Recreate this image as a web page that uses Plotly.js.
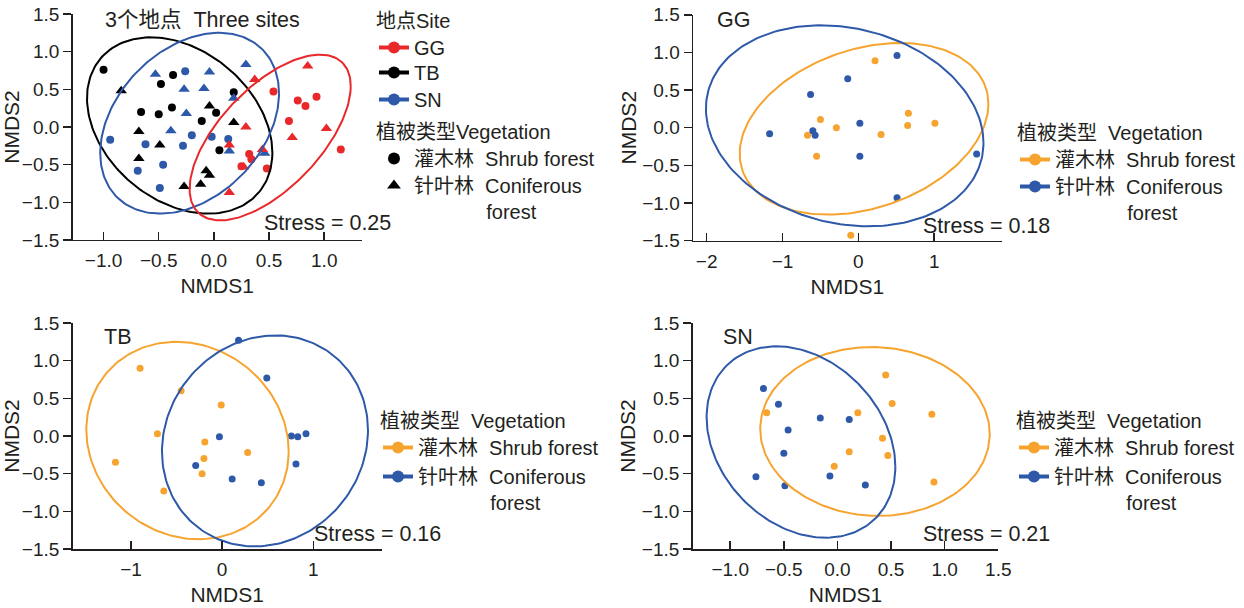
<!DOCTYPE html>
<html><head><meta charset="utf-8">
<script src="https://cdn.plot.ly/plotly-3.0.1.min.js"></script>
<style>html,body{margin:0;padding:0;background:#fff}#chart{width:1244px;height:608px}</style>
</head><body><div id="chart"></div>
<script>
// ---------- Panel 1: three sites ----------
const ggShrubX = [0.54, 0.76, 0.83, 0.93, 0.68, 1.15, 0.32, 0.34, 0.25, 0.48];
const ggShrubY = [0.47, 0.35, 0.28, 0.40, 0.08, -0.30, -0.36, -0.43, -0.52, -0.55];
const ggConifX = [0.85, 0.37, 0.29, 0.71, 1.02, 0.14, 0.44, 0.27, 0.14];
const ggConifY = [0.81, 0.63, 0.00, -0.14, -0.02, -0.24, -0.30, -0.53, -0.87];
const tbShrubX = [-1.00, -0.37, -0.48, 0.18, -0.66, -0.50, -0.38, -0.11, 0.02, 0.05];
const tbShrubY = [0.76, 0.69, 0.57, 0.46, 0.20, 0.17, 0.26, 0.08, 0.19, -0.31];
const tbConifX = [-0.84, -0.68, -0.49, -0.68, -0.04, 0.18, -0.07, -0.04, -0.27, -0.12];
const tbConifY = [0.48, -0.06, -0.24, -0.42, 0.28, 0.06, -0.58, -0.64, -0.79, -0.76];
const snShrubX = [-0.26, -0.94, -0.62, -0.20, -0.02, 0.13, -0.28, -0.46, -0.69, -0.49];
const snShrubY = [0.74, -0.17, -0.23, -0.11, -0.13, -0.16, -0.25, -0.50, -0.58, -0.81];
const snConifX = [-0.53, -0.04, 0.29, -0.27, -0.09, 0.18, -0.25, -0.39, 0.14, 0.46];
const snConifY = [0.70, 0.73, 0.83, 0.50, 0.51, 0.38, 0.18, -0.05, -0.32, -0.35];
// ellipse: [centreX, centreY, sdX, sdY, correlation]
const ellAllGG = [0.51, -0.14, 0.73, 1.10, 0.62];
const ellAllTB = [-0.31, 0.02, 0.84, 1.17, -0.31];
const ellAllSN = [-0.22, 0.05, 0.81, 1.20, 0.33];

// ---------- Panel 2: GG ----------
const p2ShrubX = [0.22, -0.50, -0.29, -0.67, -0.55, 0.30, 0.66, 0.65, 1.01, -0.10];
const p2ShrubY = [0.89, 0.11, 0.00, -0.10, -0.38, -0.09, 0.19, 0.03, 0.06, -1.43];
const p2ConifX = [0.51, -0.14, -0.63, -1.17, -0.60, -0.57, 0.02, 0.02, 1.56, 0.51];
const p2ConifY = [0.96, 0.65, 0.44, -0.08, -0.04, -0.10, 0.06, -0.38, -0.35, -0.93];
const ellGGShrub = [0.075, -0.015, 1.64, 1.14, 0.29];
const ellGGConif = [-0.18, 0.025, 1.83, 1.335, -0.17];

// ---------- Panel 3: TB ----------
const p3ShrubX = [-0.90, -0.45, -0.01, -0.71, -1.17, -0.19, -0.20, -0.22, 0.28, -0.64];
const p3ShrubY = [0.90, 0.60, 0.41, 0.03, -0.35, -0.08, -0.30, -0.50, -0.22, -0.73];
const p3ConifX = [0.18, 0.49, -0.03, 0.76, 0.83, 0.92, 0.81, -0.29, 0.11, 0.43];
const p3ConifY = [1.27, 0.77, -0.01, 0.00, -0.01, 0.03, -0.37, -0.39, -0.57, -0.62];
const ellTBShrub = [-0.38, -0.06, 1.11, 1.31, -0.11];
const ellTBConif = [0.47, -0.065, 1.13, 1.40, 0.10];

// ---------- Panel 4: SN ----------
const p4ShrubX = [0.45, 0.51, 0.19, -0.66, 0.88, 0.42, 0.11, 0.47, -0.03, 0.90];
const p4ShrubY = [0.81, 0.43, 0.31, 0.31, 0.29, -0.03, -0.21, -0.26, -0.40, -0.61];
const p4ConifX = [-0.69, -0.55, -0.16, 0.11, -0.46, -0.50, -0.76, -0.49, -0.07, 0.26];
const p4ConifY = [0.63, 0.42, 0.24, 0.22, 0.08, -0.23, -0.54, -0.66, -0.53, -0.65];
const ellSNShrub = [0.35, 0.06, 1.07, 1.12, -0.03];
const ellSNConif = [-0.34, -0.08, 0.88, 1.27, -0.26];

const stressValues = ['0.25', '0.18', '0.16', '0.21'];
const panelTitles = ['3个地点\u00a0\u00a0Three sites', 'GG', 'TB', 'SN'];
const siteNames = ['GG', 'TB', 'SN'];
const siteTitle = '地点Site';
const vegTitle1 = '植被类型Vegetation';
const vegTitle = '植被类型\u00a0\u00a0Vegetation';
const shrubName = '灌木林\u00a0\u00a0Shrub forest';
const conifName = '针叶林\u00a0\u00a0Coniferous<br>' + '\u00a0'.repeat(13) + 'forest';

// ---------- styling ----------
const RED = '#E8282B', BLACK = '#000000', BLUE = '#2E58A8', ORANGE = '#F6A42F';
const TXT = '#231F20';
const FONT = "'Liberation Sans', Arial, 'Noto Sans CJK SC', sans-serif";

function ellipse(p, n) {
  const [cx, cy, sx, sy, r] = p;
  const xs = [], ys = [];
  const q = Math.sqrt(1 - r * r);
  for (let i = 0; i <= n; i++) {
    const t = 2 * Math.PI * i / n;
    xs.push(cx + sx * Math.cos(t));
    ys.push(cy + sy * (r * Math.cos(t) + q * Math.sin(t)));
  }
  return {xs, ys};
}

const traces = [];
function pts(x, y, color, symbol, size, xa, ya) {
  traces.push({type: 'scatter', mode: 'markers', x, y, xaxis: xa, yaxis: ya,
    marker: {color, symbol, size, line: {width: 0}}, showlegend: false, hoverinfo: 'skip'});
}
function ell(p, color, xa, ya) {
  const e = ellipse(p, 200);
  traces.push({type: 'scatter', mode: 'lines', x: e.xs, y: e.ys, xaxis: xa, yaxis: ya,
    line: {color, width: 2}, showlegend: false, hoverinfo: 'skip'});
}

// panel 1
pts(tbShrubX, tbShrubY, BLACK, 'circle', 8, 'x', 'y');
pts(tbConifX, tbConifY, BLACK, 'triangle-up', 10, 'x', 'y');
pts(snShrubX, snShrubY, BLUE, 'circle', 8, 'x', 'y');
pts(snConifX, snConifY, BLUE, 'triangle-up', 10, 'x', 'y');
pts(ggShrubX, ggShrubY, RED, 'circle', 8, 'x', 'y');
pts(ggConifX, ggConifY, RED, 'triangle-up', 10, 'x', 'y');
ell(ellAllTB, BLACK, 'x', 'y');
ell(ellAllSN, BLUE, 'x', 'y');
ell(ellAllGG, RED, 'x', 'y');
// panel 2
pts(p2ShrubX, p2ShrubY, ORANGE, 'circle', 7, 'x2', 'y2');
pts(p2ConifX, p2ConifY, BLUE, 'circle', 7, 'x2', 'y2');
ell(ellGGShrub, ORANGE, 'x2', 'y2');
ell(ellGGConif, BLUE, 'x2', 'y2');
// panel 3
pts(p3ShrubX, p3ShrubY, ORANGE, 'circle', 7, 'x3', 'y3');
pts(p3ConifX, p3ConifY, BLUE, 'circle', 7, 'x3', 'y3');
ell(ellTBShrub, ORANGE, 'x3', 'y3');
ell(ellTBConif, BLUE, 'x3', 'y3');
// panel 4
pts(p4ShrubX, p4ShrubY, ORANGE, 'circle', 7, 'x4', 'y4');
pts(p4ConifX, p4ConifY, BLUE, 'circle', 7, 'x4', 'y4');
ell(ellSNShrub, ORANGE, 'x4', 'y4');
ell(ellSNConif, BLUE, 'x4', 'y4');

// legend entries (one entry per legend box, for exact spacing)
function leg(name, color, symbol, mode, legend) {
  traces.push({type: 'scatter', mode, x: [null], y: [null], name, legend,
    marker: {color, symbol, size: 12}, line: {color, width: 4}, showlegend: true, hoverinfo: 'skip'});
}
leg(siteNames[0], RED, 'circle', 'lines+markers', 'legend');
leg(siteNames[1], BLACK, 'circle', 'lines+markers', 'legend2');
leg(siteNames[2], BLUE, 'circle', 'lines+markers', 'legend3');
leg(shrubName, BLACK, 'circle', 'markers', 'legend4');
leg(conifName, BLACK, 'triangle-up', 'markers', 'legend5');
leg(shrubName, ORANGE, 'circle', 'lines+markers', 'legend6');
leg(conifName, BLUE, 'circle', 'lines+markers', 'legend7');
leg(shrubName, ORANGE, 'circle', 'lines+markers', 'legend8');
leg(conifName, BLUE, 'circle', 'lines+markers', 'legend9');
leg(shrubName, ORANGE, 'circle', 'lines+markers', 'legend10');
leg(conifName, BLUE, 'circle', 'lines+markers', 'legend11');

function xax(domain, range, tickvals, fmt, anchor) {
  return {domain, range, anchor, tickvals, tickformat: fmt, showgrid: false, zeroline: false,
    showline: true, linecolor: TXT, linewidth: 1.5, ticks: 'inside', ticklen: 8, tickcolor: TXT, tickwidth: 1.5,
    tickfont: {size: 19, color: TXT, family: FONT}, ticklabelstandoff: 3,
    title: {text: 'NMDS1', font: {size: 21, color: TXT, family: FONT}, standoff: 8}, automargin: false, fixedrange: true};
}
function yax(domain, anchor) {
  return {domain, range: [-1.5, 1.5], anchor, tickvals: [-1.5, -1, -0.5, 0, 0.5, 1, 1.5], tickformat: '.1f',
    showgrid: false, zeroline: false, showline: true, linecolor: TXT, linewidth: 1.5,
    ticks: 'outside', ticklen: 8, tickcolor: TXT, tickwidth: 1.5,
    tickfont: {size: 19, color: TXT, family: FONT},
    title: {text: 'NMDS2', font: {size: 21, color: TXT, family: FONT}, standoff: 0}, automargin: false, fixedrange: true};
}
function legendCfg(xPx, topPx, title) {
  const c = {x: xPx / 1244, y: 1 - topPx / 608, xanchor: 'left', yanchor: 'top', bgcolor: 'rgba(0,0,0,0)', borderwidth: 0,
    font: {size: 20, color: TXT, family: FONT}, valign: 'top'};
  if (title) c.title = {text: title, font: {size: 20, color: TXT, family: FONT}};
  return c;
}
function note(text, xref, yref, x, y) {
  return {text, xref, yref, x, y, xanchor: 'left', yanchor: 'middle', showarrow: false,
    font: {size: 21.5, color: TXT, family: FONT}};
}

const layout = {
  width: 1244, height: 608, margin: {l: 0, r: 0, t: 0, b: 0},
  paper_bgcolor: '#fff', plot_bgcolor: '#fff', showlegend: true,
  xaxis: xax([0.0584, 0.2908], [-1.28, 1.34], [-1, -0.5, 0, 0.5, 1], '.1f', 'y'),
  yaxis: yax([0.6053, 0.977], 'x'),
  xaxis2: xax([0.5571, 0.8052], [-2.18, 1.89], [-2, -1, 0, 1], 'd', 'y2'),
  yaxis2: yax([0.6043, 0.9757], 'x2'),
  xaxis3: xax([0.0584, 0.3068], [-1.64, 1.75], [-1, 0, 1], 'd', 'y3'),
  yaxis3: yax([0.0970, 0.4688], 'x3'),
  xaxis4: xax([0.5568, 0.8025], [-1.35, 1.5], [-1, -0.5, 0, 0.5, 1, 1.5], '.1f', 'y4'),
  yaxis4: yax([0.0970, 0.4688], 'x4'),
  legend: legendCfg(374, 2, siteTitle),
  legend2: legendCfg(374, 53),
  legend3: legendCfg(374, 80),
  legend4: legendCfg(374, 113, vegTitle1),
  legend5: legendCfg(374, 166),
  legend6: legendCfg(1015, 114, vegTitle),
  legend7: legendCfg(1015, 167),
  legend8: legendCfg(378, 402, vegTitle),
  legend9: legendCfg(378, 457),
  legend10: legendCfg(1014, 402, vegTitle),
  legend11: legendCfg(1014, 457),
  annotations: [
    note(panelTitles[0], 'x domain', 'y domain', 0.105, 0.973),
    note(panelTitles[1], 'x2 domain', 'y2 domain', 0.071, 0.977),
    note(panelTitles[2], 'x3 domain', 'y3 domain', 0.094, 0.938),
    note(panelTitles[3], 'x4 domain', 'y4 domain', 0.092, 0.938),
    note('Stress = ' + stressValues[0], 'x domain', 'y domain', 0.655, 0.077),
    note('Stress = ' + stressValues[1], 'x2 domain', 'y2 domain', 0.740, 0.065),
    note('Stress = ' + stressValues[2], 'x3 domain', 'y3 domain', 0.776, 0.066),
    note('Stress = ' + stressValues[3], 'x4 domain', 'y4 domain', 0.748, 0.066)
  ]
};

Plotly.newPlot('chart', traces, layout, {staticPlot: true, displayModeBar: false});
</script>
</body></html>
